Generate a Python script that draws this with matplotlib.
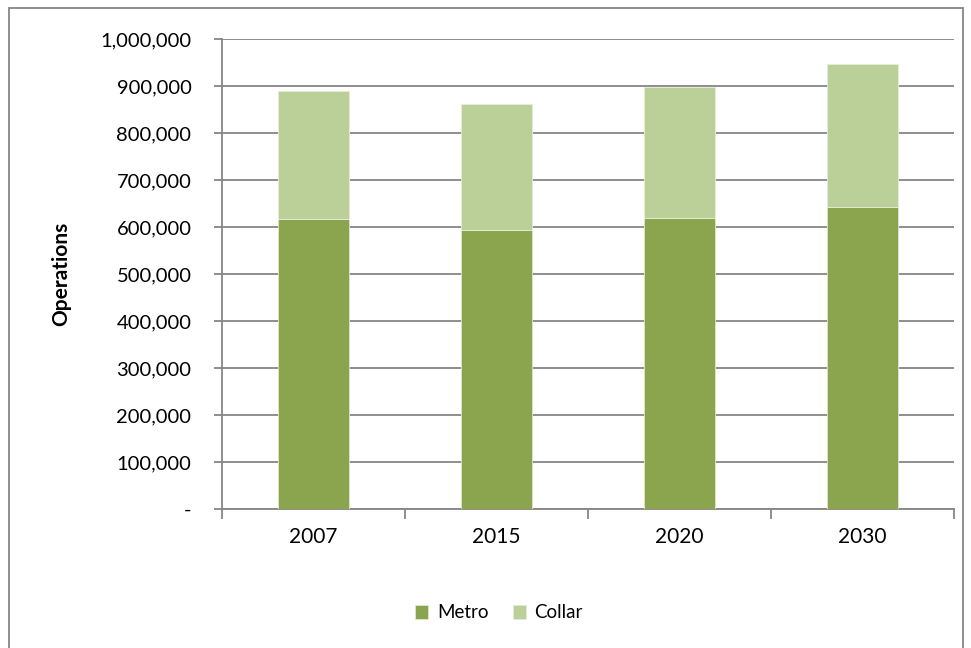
import matplotlib
matplotlib.use("Agg")
import matplotlib.pyplot as plt
from matplotlib.patches import Rectangle
from matplotlib.ticker import FuncFormatter

years = ["2007", "2015", "2020", "2030"]
metro = [618000, 593000, 619000, 642000]
collar = [271000, 269000, 278000, 304000]
yticks = [0, 100000, 200000, 300000, 400000, 500000, 600000, 700000, 800000, 900000, 1000000]

plt.rcParams['font.family'] = ['Lato', 'DejaVu Sans']
W, H = 971, 648
fig = plt.figure(figsize=(W/100, H/100), dpi=100)
ax = fig.add_axes([222/W, 1-509/H, (954-222)/W, (509-39)/H])

x = list(range(len(years)))
ax.bar(x, metro, width=0.39, color="#8AA54E", label="Metro", zorder=3, edgecolor="#DDE8CC", linewidth=0.6)
ax.bar(x, collar, bottom=metro, width=0.39, color="#BBCF99", label="Collar", zorder=3, edgecolor="#E6EEDA", linewidth=0.6)

ax.set_xlim(-0.5, len(years)-0.5)
ax.set_ylim(0, 1000000)
ax.set_yticks(yticks)
ax.yaxis.set_major_formatter(FuncFormatter(lambda v, p: "-" if v == 0 else f"{int(v):,}"))
ax.set_xticks(x)
ax.set_xticklabels(years)
ax.set_xticks([i + 0.5 for i in range(-1, len(years))], minor=True)
ax.tick_params(axis='x', which='major', length=0, pad=13, labelsize=15)
ax.tick_params(axis='x', which='minor', length=7, width=1.3, color="#868686", direction='out')
ax.tick_params(axis='y', length=6, width=1.3, color="#868686", direction='out', pad=16, labelsize=14.5)
ax.grid(axis='y', color="#868686", linewidth=1.3, zorder=0)
ax.set_axisbelow(True)
for s in ['top', 'right']:
    ax.spines[s].set_visible(False)
for s in ['left', 'bottom']:
    ax.spines[s].set_color("#868686")
    ax.spines[s].set_linewidth(1.3)

ax.set_ylabel("Operations", fontsize=15, fontweight='bold')
ax.yaxis.set_label_coords((71-222)/(954-222), 0.5)

fig.legend(loc='center', bbox_to_anchor=(499/W, 1-613/H), ncol=2, frameon=False,
           fontsize=13.5, handlelength=0.7, handleheight=0.7, handletextpad=0.45, columnspacing=1.3)

fig.patches.append(Rectangle((9/W, -0.05), (963-9)/W, 1.05-8/H, transform=fig.transFigure,
                             fill=False, edgecolor="#868686", linewidth=1.3))

fig.savefig("out.png", dpi=100)
